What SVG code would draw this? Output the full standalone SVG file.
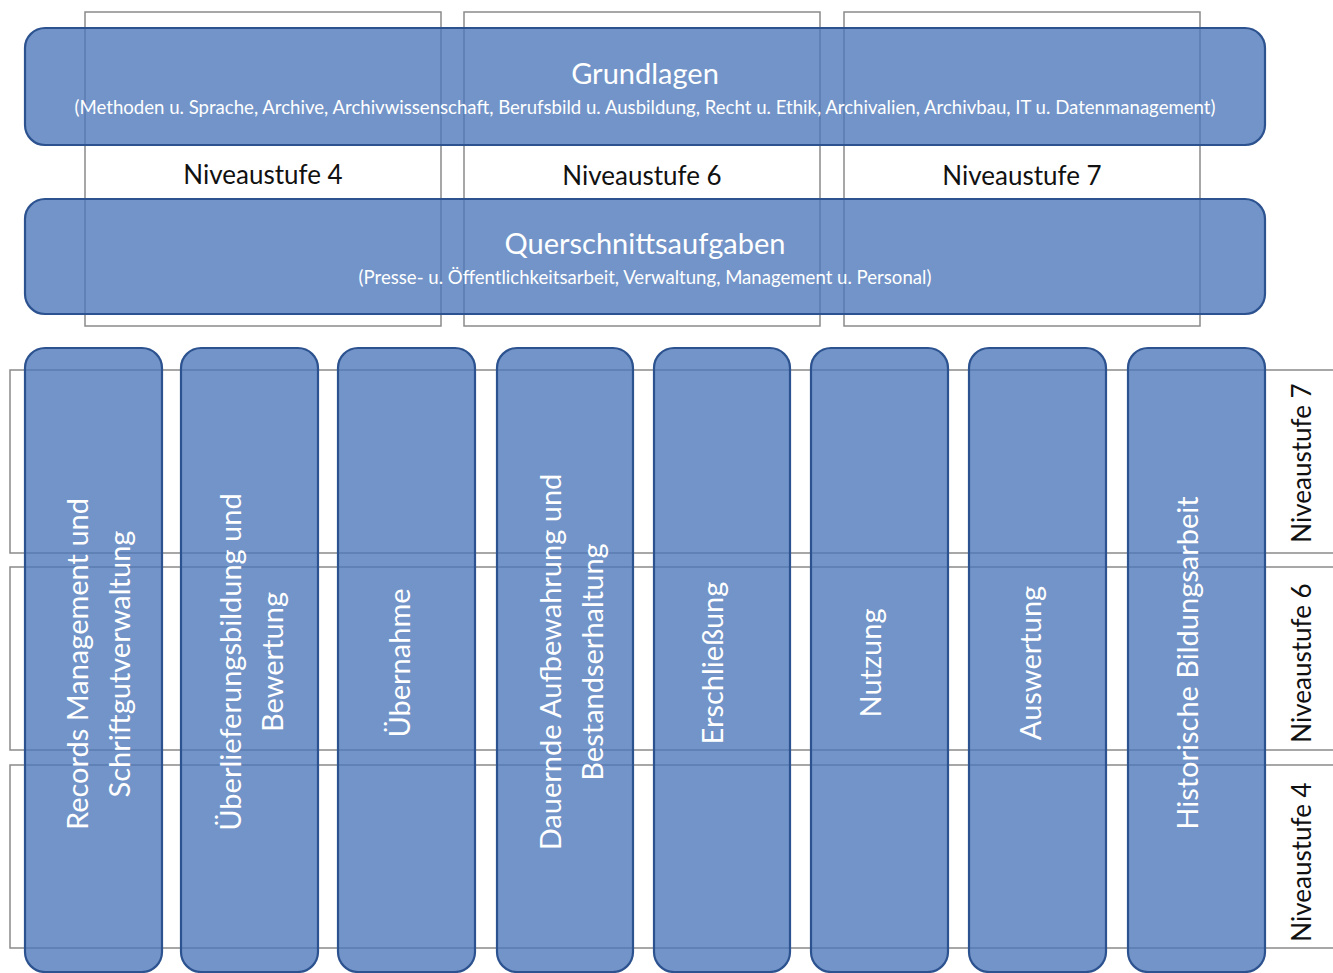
<svg xmlns="http://www.w3.org/2000/svg" width="1333" height="973" viewBox="0 0 1333 973">
<style>
.lvl{fill:#ffffff;stroke:#8a8a8a;stroke-width:1.5}
.blk{fill:#4a76b9;fill-opacity:0.78;stroke:#2c528f;stroke-width:2.2}
.t{font-family:Lato,"Open Sans","Liberation Sans",sans-serif;fill:#ffffff;text-anchor:middle;dominant-baseline:central}
.big{font-size:29px}
.sub{font-size:18.6px}
.col{font-size:29px}
.lab{font-family:Lato,"Open Sans","Liberation Sans",sans-serif;fill:#111111;font-size:26px;text-anchor:middle;dominant-baseline:central}
</style>
<rect width="1333" height="973" fill="#ffffff"/>
<g id="levels-top">
<rect class="lvl" x="85" y="12" width="356" height="314"/>
<rect class="lvl" x="464" y="12" width="356" height="314"/>
<rect class="lvl" x="844" y="12" width="356" height="314"/>
</g>
<g id="levels-rows">
<rect class="lvl" x="10" y="370" width="1340" height="183"/>
<rect class="lvl" x="10" y="567" width="1340" height="183"/>
<rect class="lvl" x="10" y="765" width="1340" height="183"/>
</g>
<g id="level-labels">
<text class="lab" x="263" y="174">Niveaustufe 4</text>
<text class="lab" x="642" y="175">Niveaustufe 6</text>
<text class="lab" x="1022" y="175">Niveaustufe 7</text>
<text class="lab" transform="translate(1301,463) rotate(-90)">Niveaustufe 7</text>
<text class="lab" transform="translate(1301,663) rotate(-90)">Niveaustufe 6</text>
<text class="lab" transform="translate(1301,862) rotate(-90)">Niveaustufe 4</text>
</g>
<g id="grundlagen">
<rect class="blk" x="25" y="28" width="1240" height="117" rx="20"/>
<text class="t big" x="645" y="72">Grundlagen</text>
<text class="t sub" x="645" y="107">(Methoden u. Sprache, Archive, Archivwissenschaft, Berufsbild u. Ausbildung, Recht u. Ethik, Archivalien, Archivbau, IT u. Datenmanagement)</text>
</g>
<g id="querschnitt">
<rect class="blk" x="25" y="199" width="1240" height="115" rx="20"/>
<text class="t big" x="645" y="242">Querschnittsaufgaben</text>
<text class="t sub" x="645" y="277">(Presse- u. Öffentlichkeitsarbeit, Verwaltung, Management u. Personal)</text>
</g>
<g id="col1">
<rect class="blk" x="25" y="348" width="137" height="624" rx="20"/>
<text class="t col" transform="translate(0,664) rotate(-90)"><tspan x="0" y="76">Records Management und</tspan><tspan x="0" y="118">Schriftgutverwaltung</tspan></text>
</g>
<g id="col2">
<rect class="blk" x="181" y="348" width="137" height="624" rx="20"/>
<text class="t col" transform="translate(0,662) rotate(-90)"><tspan x="0" y="229">Überlieferungsbildung und</tspan><tspan x="0" y="271">Bewertung</tspan></text>
</g>
<g id="col3">
<rect class="blk" x="338" y="348" width="137" height="624" rx="20"/>
<text class="t col" transform="translate(398,663) rotate(-90)">Übernahme</text>
</g>
<g id="col4">
<rect class="blk" x="497" y="348" width="136" height="624" rx="20"/>
<text class="t col" transform="translate(0,662) rotate(-90)"><tspan x="0" y="549">Dauernde Aufbewahrung und</tspan><tspan x="0" y="591">Bestandserhaltung</tspan></text>
</g>
<g id="col5">
<rect class="blk" x="654" y="348" width="136" height="624" rx="20"/>
<text class="t col" transform="translate(711,663) rotate(-90)">Erschließung</text>
</g>
<g id="col6">
<rect class="blk" x="811" y="348" width="137" height="624" rx="20"/>
<text class="t col" transform="translate(869,663) rotate(-90)">Nutzung</text>
</g>
<g id="col7">
<rect class="blk" x="969" y="348" width="137" height="624" rx="20"/>
<text class="t col" transform="translate(1029,663) rotate(-90)">Auswertung</text>
</g>
<g id="col8">
<rect class="blk" x="1128" y="348" width="137" height="624" rx="20"/>
<text class="t col" transform="translate(1186,663) rotate(-90)">Historische Bildungsarbeit</text>
</g>
<g id="connectors"></g>
</svg>
